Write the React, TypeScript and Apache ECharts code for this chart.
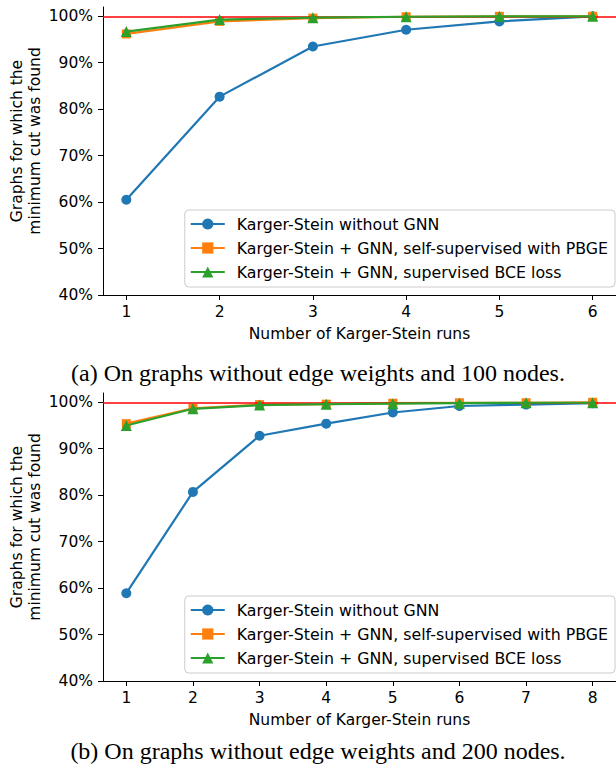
import React, { useEffect, useRef } from "react";
import * as echarts from "echarts";

// ---- data ----
const runsA = [1, 2, 3, 4, 5, 6];
const withoutGnnA = [60.5, 82.7, 93.5, 97.1, 98.9, 100];
const pbgeA = [96.2, 98.9, 99.6, 99.9, 100, 100];
const bceA = [96.7, 99.3, 99.7, 99.9, 100, 100];

const runsB = [1, 2, 3, 4, 5, 6, 7, 8];
const withoutGnnB = [58.9, 80.7, 92.8, 95.4, 97.8, 99.2, 99.5, 99.8];
const pbgeB = [95.4, 98.7, 99.5, 99.6, 99.8, 99.9, 99.9, 100];
const bceB = [95.0, 98.6, 99.4, 99.6, 99.7, 99.8, 99.9, 99.9];

const yTicks = [40, 50, 60, 70, 80, 90, 100];
const referenceLine = 100;

const seriesNames = [
  "Karger-Stein without GNN",
  "Karger-Stein + GNN, self-supervised with PBGE",
  "Karger-Stein + GNN, supervised BCE loss",
];
const xTitle = "Number of Karger-Stein runs";
const yTitle = "Graphs for which the\nminimum cut was found";
const captionA = "(a) On graphs without edge weights and 100 nodes.";
const captionB = "(b) On graphs without edge weights and 200 nodes.";

const FONT = "DejaVu Sans";
const FS = 15.5;
const LEGEND_FS = 15.8;
const COLORS = ["#1f77b4", "#ff7f0e", "#2ca02c"];
const SYMBOLS = ["circle", "rect", "triangle"];
const SIZES = [10, 9, 11];

function pairs(xs: number[], ys: number[]) {
  return xs.map((x, i) => [x, ys[i]]);
}

export default function App() {
  const ref = useRef<HTMLDivElement>(null);
  useEffect(() => {
    if (!ref.current) return;
    const chart = echarts.init(ref.current, null, { renderer: "svg" });

    const grids = [
      { left: 103, top: 7, width: 514, height: 288 },
      { left: 103, top: 393, width: 514, height: 288 },
    ];

    const mkX = (gi: number, runs: number[]) => ({
      gridIndex: gi,
      type: "value",
      min: runs[0] - 0.05 * (runs[runs.length - 1] - runs[0]),
      max: runs[runs.length - 1] + 0.05 * (runs[runs.length - 1] - runs[0]),
      axisLine: { show: true, onZero: false, lineStyle: { color: "#000", width: 1 } },
      axisTick: { show: true, customValues: runs, length: 5, lineStyle: { color: "#000", width: 1 } },
      axisLabel: { customValues: runs, margin: 9, fontSize: FS, color: "#000", fontFamily: FONT },
      splitLine: { show: false },
      name: xTitle,
      nameLocation: "middle",
      nameGap: 31,
      nameTextStyle: { fontSize: FS, color: "#000", fontFamily: FONT },
    });

    const mkY = (gi: number) => ({
      gridIndex: gi,
      type: "value",
      min: 40,
      max: 102,
      axisLine: { show: true, onZero: false, lineStyle: { color: "#000", width: 1 } },
      axisTick: { show: true, customValues: yTicks, length: 5, lineStyle: { color: "#000", width: 1 } },
      axisLabel: {
        customValues: yTicks,
        margin: 10,
        fontSize: FS,
        color: "#000",
        fontFamily: FONT,
        formatter: (v: number) => `${v}%`,
      },
      splitLine: { show: false },
    });

    const mkSeries = (gi: number, runs: number[], lists: number[][]) => {
      const out: any[] = [
        {
          type: "line",
          xAxisIndex: gi,
          yAxisIndex: gi,
          data: [],
          z: 1,
          silent: true,
          markLine: {
            silent: true,
            symbol: ["none", "none"],
            label: { show: false },
            lineStyle: { color: "#ff0000", width: 1.5, type: "solid" },
            emphasis: { disabled: true },
            data: [{ yAxis: referenceLine }],
          },
        },
      ];
      lists.forEach((ys, i) => {
        out.push({
          name: seriesNames[i],
          type: "line",
          xAxisIndex: gi,
          yAxisIndex: gi,
          data: pairs(runs, ys),
          symbol: SYMBOLS[i],
          symbolSize: SIZES[i],
          showSymbol: true,
          color: COLORS[i],
          lineStyle: { color: COLORS[i], width: 2.2 },
          itemStyle: { color: COLORS[i] },
          emphasis: { disabled: true },
          z: 3 + i,
        });
      });
      return out;
    };

    const mkLegend = (bottom: number) => ({
      data: seriesNames,
      orient: "vertical",
      right: 1,
      bottom,
      itemWidth: 34,
      itemHeight: 14,
      itemGap: 8,
      padding: [6, 7, 7, 5],
      backgroundColor: "rgba(255,255,255,0.8)",
      borderColor: "#cccccc",
      borderWidth: 1,
      borderRadius: 4,
      selectedMode: false,
      textStyle: { fontSize: LEGEND_FS, color: "#000", fontFamily: FONT, padding: [0, 0, 0, 7] },
    });

    chart.setOption({
      animation: false,
      backgroundColor: "#ffffff",
      grid: grids,
      xAxis: [mkX(0, runsA), mkX(1, runsB)],
      yAxis: [mkY(0), mkY(1)],
      legend: [mkLegend(485), mkLegend(99)],
      series: [
        ...mkSeries(0, runsA, [withoutGnnA, pbgeA, bceA]),
        ...mkSeries(1, runsB, [withoutGnnB, pbgeB, bceB]),
      ],
      graphic: [
        {
          type: "text",
          x: 26,
          y: 141,
          rotation: Math.PI / 2,
          style: {
            text: yTitle,
            fontSize: FS,
            fontFamily: FONT,
            fill: "#000",
            textAlign: "center",
            textVerticalAlign: "middle",
            lineHeight: 18,
          },
        },
        {
          type: "text",
          x: 26,
          y: 527,
          rotation: Math.PI / 2,
          style: {
            text: yTitle,
            fontSize: FS,
            fontFamily: FONT,
            fill: "#000",
            textAlign: "center",
            textVerticalAlign: "middle",
            lineHeight: 18,
          },
        },
        {
          type: "text",
          x: 318,
          y: 373,
          style: {
            text: captionA,
            fontSize: 24,
            fontFamily: "Liberation Serif",
            fill: "#000",
            textAlign: "center",
            textVerticalAlign: "middle",
          },
        },
        {
          type: "text",
          x: 318,
          y: 751,
          style: {
            text: captionB,
            fontSize: 24,
            fontFamily: "Liberation Serif",
            fill: "#000",
            textAlign: "center",
            textVerticalAlign: "middle",
          },
        },
      ],
    });
    return () => chart.dispose();
  }, []);
  return (
    <div
      ref={ref}
      style={{ position: "absolute", left: 0, top: 0, width: 616, height: 772 }}
    />
  );
}
